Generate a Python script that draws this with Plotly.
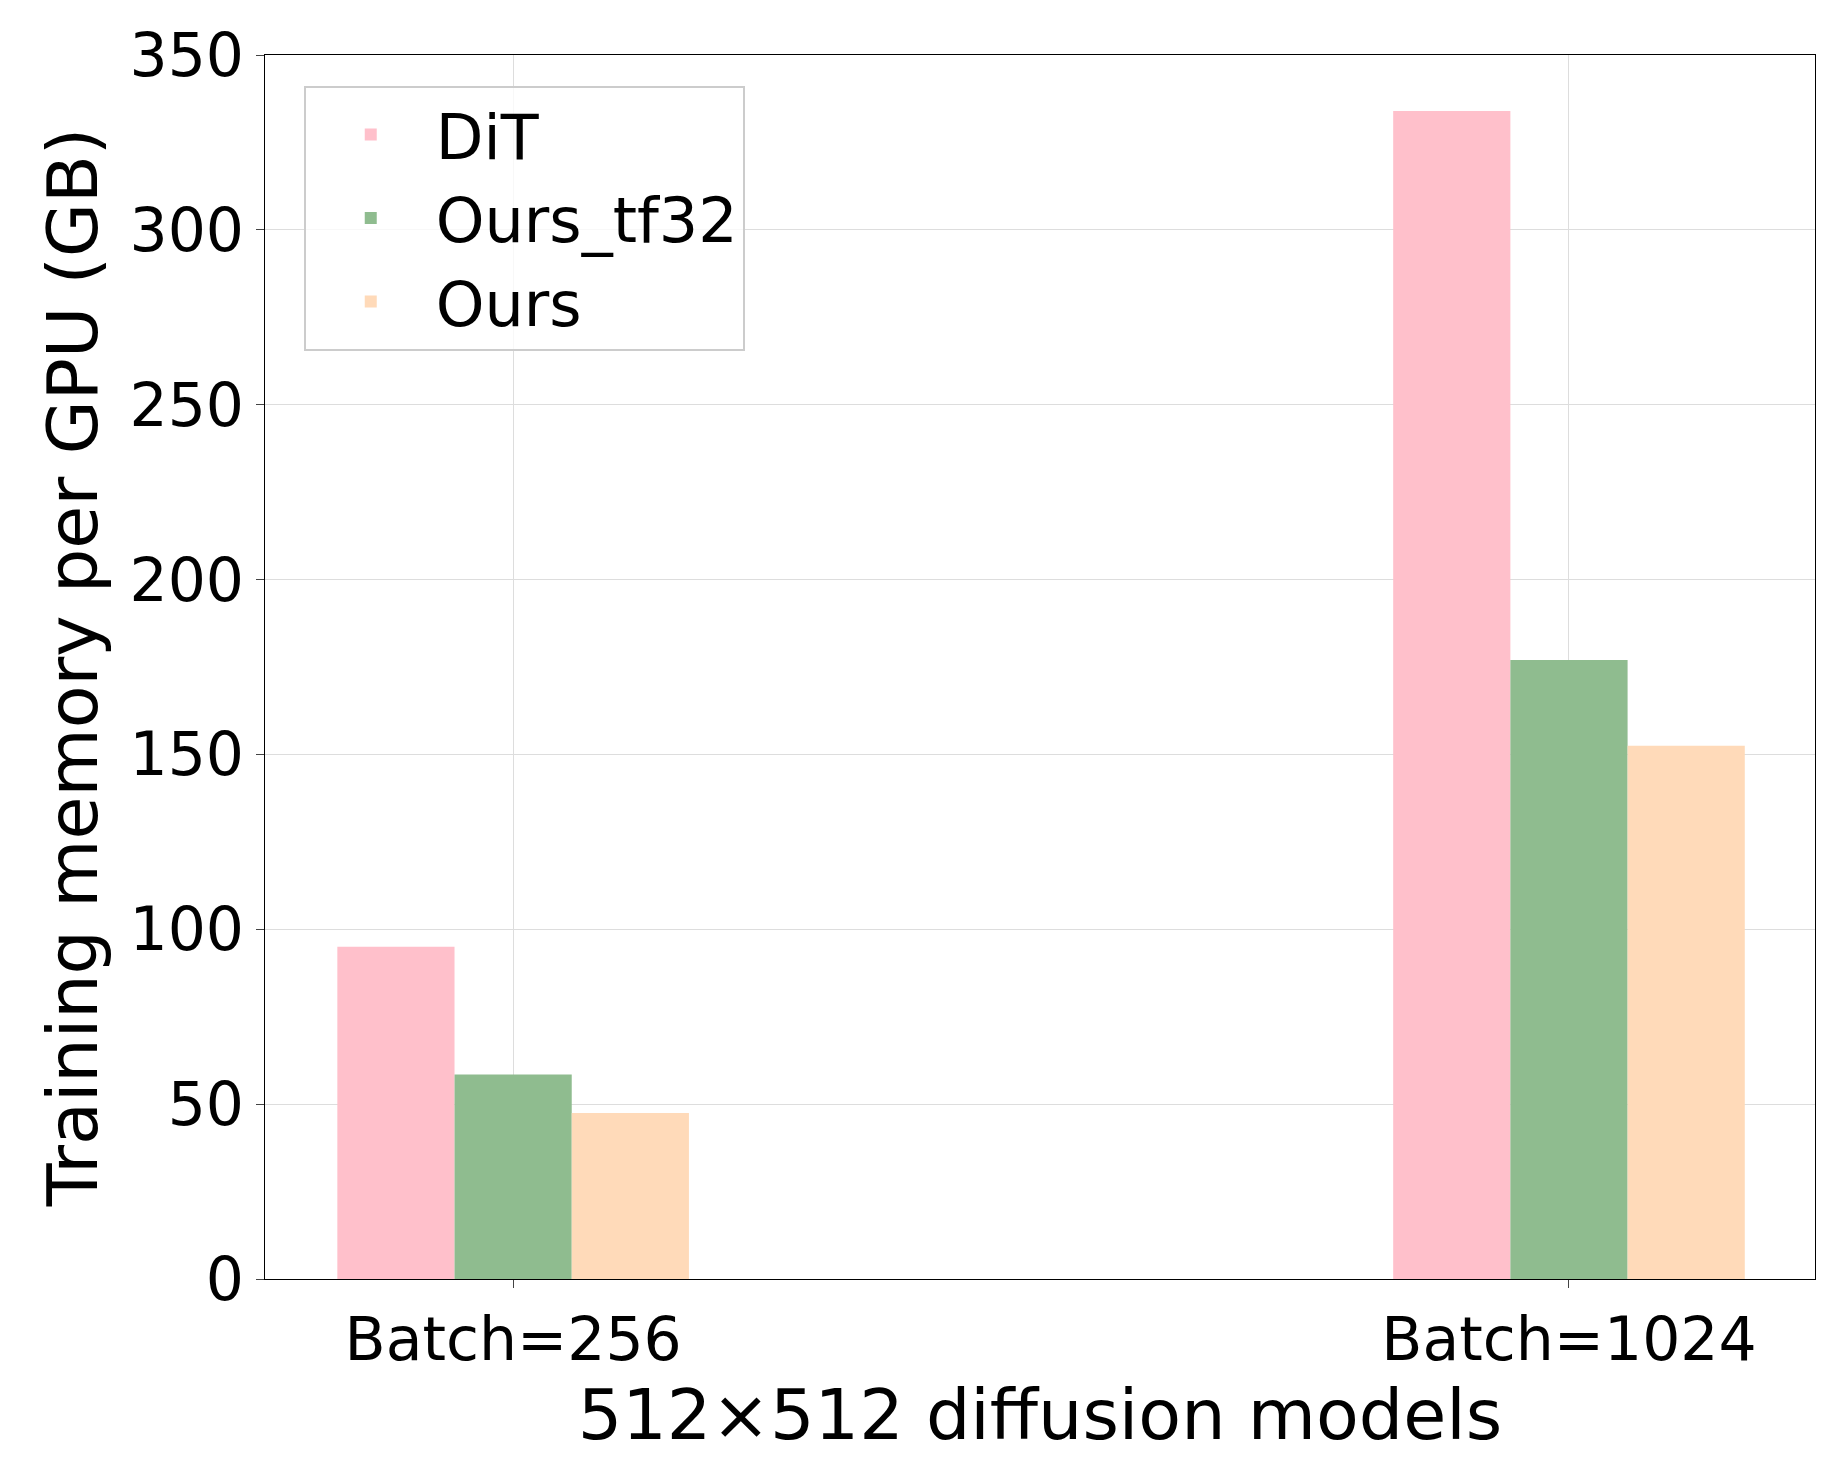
import plotly.graph_objects as go

groups = ["Batch=256", "Batch=1024"]
x_pos = [0, 1]
dit = [95, 334]
ours_tf32 = [58.5, 177]
ours = [47.5, 152.5]

w = 0.111
series = [("DiT", dit, "#FFC0CB", -w), ("Ours_tf32", ours_tf32, "#8FBC8F", 0), ("Ours", ours, "#FFDAB9", w)]

fig = go.Figure()
for name, vals, color, off in series:
    fig.add_trace(go.Bar(x=[p + off for p in x_pos], y=vals, name=name, width=w,
                         marker=dict(color=color, line=dict(width=0))))

fig.update_layout(
    width=1829, height=1471,
    paper_bgcolor="white", plot_bgcolor="white",
    font=dict(family="DejaVu Sans", size=60, color="black"),
    margin=dict(l=257, r=22, t=38, b=200),
    barmode="overlay",
    legend=dict(x=0.025, y=0.975, xanchor="left", yanchor="top",
                font=dict(size=62), bgcolor="rgba(255,255,255,0.8)",
                bordercolor="#cccccc", borderwidth=2, itemwidth=120,
                tracegroupgap=25),
    xaxis=dict(tickvals=x_pos, ticktext=groups, range=[-0.235, 1.233],
               showgrid=True, gridcolor="#dddddd", showline=True, linecolor="black",
               mirror=True, ticks="outside", ticklen=8,
               title=dict(text="512×512 diffusion models", font=dict(size=70), standoff=8)),
    yaxis=dict(range=[0, 350], dtick=50, showgrid=True, gridcolor="#dddddd",
               showline=True, linecolor="black", mirror=True, ticks="outside", ticklen=8,
               zeroline=False,
               title=dict(text="Training memory per GPU (GB)", font=dict(size=70), standoff=8)),
)

fig.write_html("out.html")
